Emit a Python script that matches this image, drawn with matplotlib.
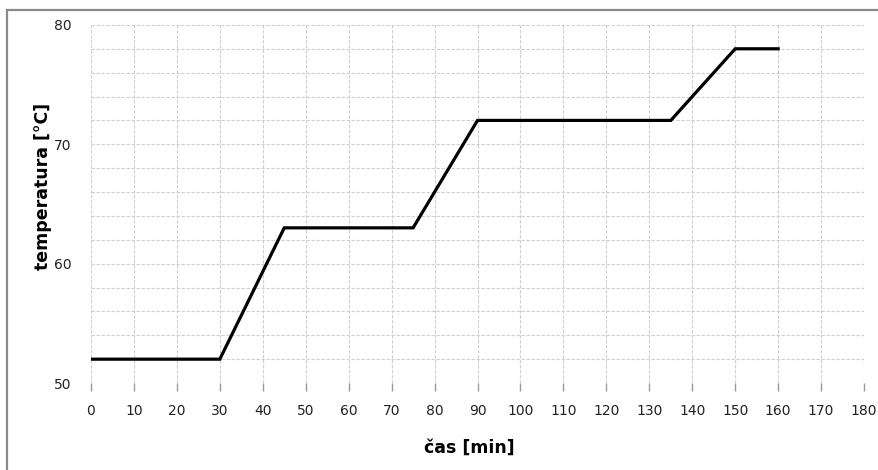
import matplotlib
matplotlib.use("Agg")
import matplotlib.pyplot as plt
from matplotlib.lines import Line2D

# temperature profile
cas = [0, 30, 45, 75, 90, 135, 150, 160]
teplota = [52, 52, 63, 63, 72, 72, 78, 78]

x_ticks = list(range(0, 181, 10))
y_ticks = [50, 60, 70, 80]
y_grid = list(range(52, 81, 2))

fig = plt.figure(figsize=(8.79, 4.70), dpi=100)
ax = fig.add_axes([0.1035, 0.185, 0.8795, 0.762])

ax.plot(cas, teplota, color="black", lw=2.3, solid_joinstyle="miter", zorder=3)

ax.set_xlim(0, 180)
ax.set_ylim(50, 80)
ax.set_xticks(x_ticks)
ax.set_yticks(y_ticks)
ax.yaxis.remove_overlapping_locs = False
ax.set_yticks(y_grid, minor=True)

# dashed light grid, none along the bottom edge
ax.grid(True, which="minor", axis="y", color="#cfcfcf", lw=0.8, ls=(0, (3, 1.5)))
ax.grid(True, which="major", axis="x", color="#cfcfcf", lw=0.8, ls=(0, (3, 1.5)))

for s in ax.spines.values():
    s.set_visible(False)

ax.tick_params(axis="x", which="major", length=6, width=1, color="#9a9a9a",
               labelsize=10, pad=9, labelcolor="#222222")
ax.tick_params(axis="y", which="both", length=0, labelsize=10, pad=14,
               labelcolor="#222222")

ax.set_xlabel("čas [min]", fontsize=12.5, fontweight="bold")
ax.set_ylabel("temperatura [°C]", fontsize=12.5, fontweight="bold")
ax.xaxis.set_label_coords(0.49, -0.155)
ax.yaxis.set_label_coords(-0.05, 0.55)

# outer chart frame (left and top visible)
fig.add_artist(Line2D([0.008, 0.008], [0, 0.979], color="#8a8a8a", lw=1.6,
                      transform=fig.transFigure))
fig.add_artist(Line2D([0.008, 1.0], [0.979, 0.979], color="#8a8a8a", lw=1.6,
                      transform=fig.transFigure))

fig.savefig("out.png", dpi=100)
